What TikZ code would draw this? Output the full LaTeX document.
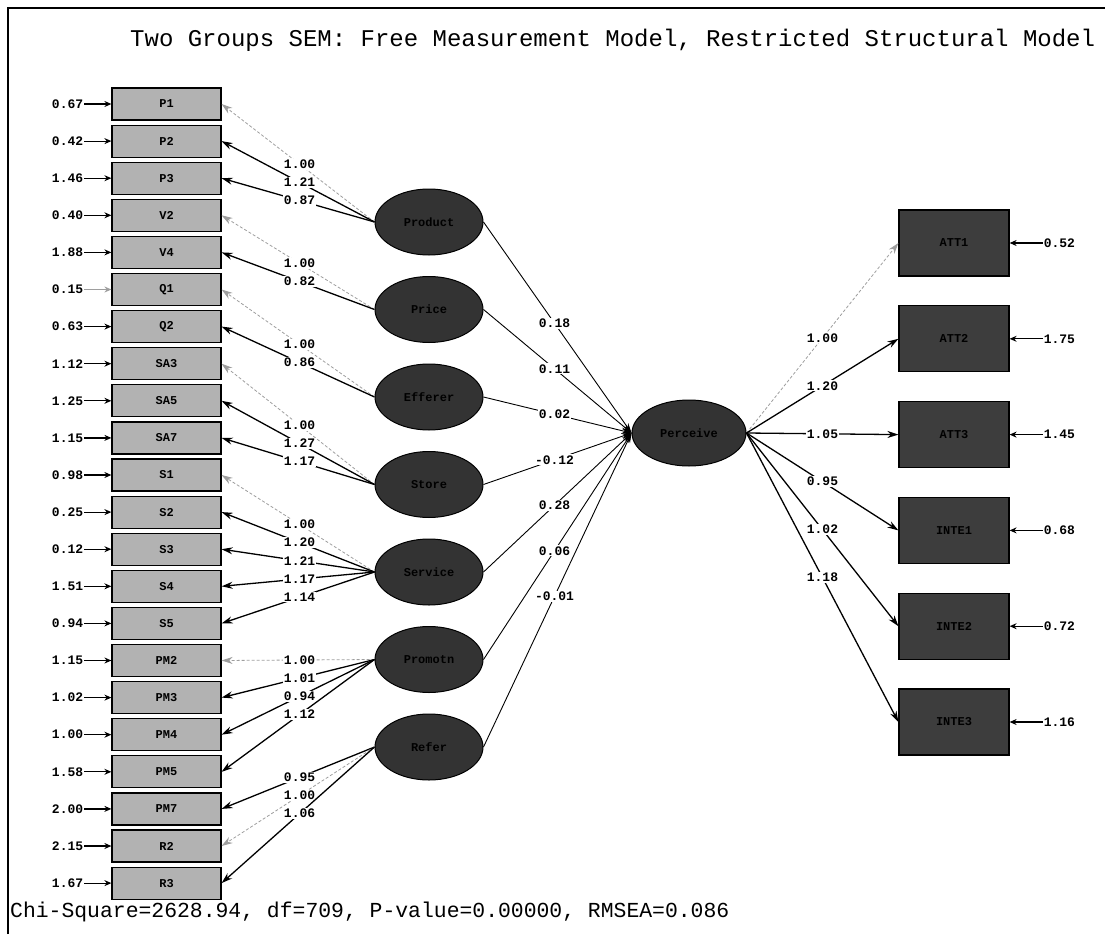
\documentclass[tikz,border=0pt]{standalone}
\usepackage{fontspec}
\setmonofont{Liberation Mono}
\usepackage{tikz}
\usetikzlibrary{positioning, arrows.meta, shapes.geometric}
\definecolor{BoxGray}{gray}{0.70}
\definecolor{EndoDark}{gray}{0.24}
\definecolor{LatDark}{gray}{0.20}
\definecolor{FixGray}{gray}{0.62}
\tikzset{
  obs/.style={draw=black, line width=1.2pt, fill=BoxGray, minimum width=109pt, minimum height=32pt,
    inner sep=0pt, font=\ttfamily\bfseries\fontsize{12}{12}\selectfont},
  endo/.style={obs, fill=EndoDark, text=black, minimum width=110pt, minimum height=66pt},
  latent/.style={ellipse, draw=black, line width=1pt, fill=LatDark, text=black, minimum width=108pt,
    minimum height=66pt, inner sep=0pt, font=\ttfamily\bfseries\fontsize{12}{12}\selectfont},
  coef/.style={fill=white, inner sep=1pt, font=\ttfamily\bfseries\fontsize{13}{13}\selectfont},
  errval/.style={inner sep=1pt, font=\ttfamily\bfseries\fontsize{13}{13}\selectfont},
  load/.style={-{Stealth[length=11pt, width=7pt]}, line width=1.3pt},
  fixd/.style={-{Stealth[length=11pt, width=7pt]}, line width=0.8pt, FixGray, densely dashed},
  gam/.style={-{Stealth[length=10pt, width=6pt]}, line width=0.9pt},
  errarr/.style={-{Stealth[length=7pt, width=6pt]}, line width=1.2pt},
  errfix/.style={errarr, FixGray},
}

\begin{document}
\begin{tikzpicture}[x=1pt, y=-1pt]
    \useasboundingbox (0,0) rectangle (1105,934);
    \draw[line width=1.5pt] (8,934) |- (1105,8);
    \node[anchor=west, inner sep=0pt, font=\ttfamily\fontsize{24}{24}\selectfont] (title) at (130,40)
      {Two Groups SEM: Free Measurement Model, Restricted Structural Model};
    \node[anchor=west, inner sep=0pt, font=\ttfamily\fontsize{21.4}{22}\selectfont] (fit) at (10,912)
      {Chi-Square=2628.94, df=709, P-value=0.00000, RMSEA=0.086};
    % observed indicators with error variances
    \foreach \lab/\err/\st [count=\k from 0] in {P1/0.67/errarr, P2/0.42/errarr, P3/1.46/errarr,
        V2/0.40/errarr, V4/1.88/errarr, Q1/0.15/errfix, Q2/0.63/errarr, SA3/1.12/errarr,
        SA5/1.25/errarr, SA7/1.15/errarr, S1/0.98/errarr, S2/0.25/errarr, S3/0.12/errarr,
        S4/1.51/errarr, S5/0.94/errarr, PM2/1.15/errarr, PM3/1.02/errarr, PM4/1.00/errarr,
        PM5/1.58/errarr, PM7/2.00/errarr, R2/2.15/errarr, R3/1.67/errarr} {
      \node[obs] (x\k) at (166.5, 104+37.1*\k) {\lab};
      \node[errval, left=27pt of x\k] (ex\k) {\err};
      \draw[\st] (ex\k) -- (x\k);
    }
    % exogenous latents
    \foreach \nm/\txt [count=\j from 0] in {prod/Product, price/Price, effr/Efferer, store/Store,
        serv/Service, prom/Promotn, refer/Refer}
      \node[latent] (\nm) at (429, 222+87.5*\j) {\txt};
    \node[latent, minimum width=114pt] (perc) at (689,433) {Perceive};
    % endogenous indicators
    \foreach \nm/\txt/\err [count=\i from 0] in {att1/ATT1/0.52, att2/ATT2/1.75, att3/ATT3/1.45,
        inte1/INTE1/0.68, inte2/INTE2/0.72, inte3/INTE3/1.16} {
      \node[endo] (\nm) at (954, 243+95.8*\i) {\txt};
      \node[errval, right=33pt of \nm] (e\nm) {\err};
      \draw[errarr] (e\nm) -- (\nm);
    }
    % measurement paths
    \foreach \f/\k/\v/\st in {prod/0/1.00/fixd, prod/1/1.21/load, prod/2/0.87/load,
        price/3/1.00/fixd, price/4/0.82/load, effr/5/1.00/fixd, effr/6/0.86/load,
        store/7/1.00/fixd, store/8/1.27/load, store/9/1.17/load,
        serv/10/1.00/fixd, serv/11/1.20/load, serv/12/1.21/load, serv/13/1.17/load, serv/14/1.14/load,
        prom/15/1.00/fixd, prom/16/1.01/load, prom/17/0.94/load, prom/18/1.12/load,
        refer/19/0.95/load, refer/20/1.00/fixd, refer/21/1.06/load}
      \draw[\st] (\f.west) -- node[coef, pos=.49, text=black, solid] {\v} (x\k.east);
    % structural paths
    \foreach \f/\v in {prod/0.18, price/0.11, effr/0.02, store/-0.12, serv/0.28, prom/0.06, refer/-0.01}
      \draw[gam] (\f.east) -- node[coef, pos=.48] {\v} (perc.west);
    \foreach \t/\v/\st in {att1/1.00/fixd, att2/1.20/load, att3/1.05/load,
        inte1/0.95/load, inte2/1.02/load, inte3/1.18/load}
      \draw[\st] (perc.east) -- node[coef, pos=.5, text=black, solid] {\v} (\t.west);
  \end{tikzpicture}
\end{document}
